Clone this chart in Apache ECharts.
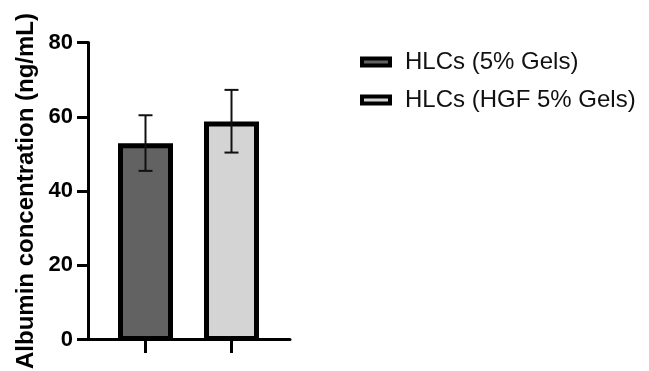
<!DOCTYPE html>
<html>
<head>
<meta charset="utf-8">
<script src="https://cdn.jsdelivr.net/npm/echarts@6/dist/echarts.min.js"></script>
<style>html,body{margin:0;padding:0;background:#fff}#c{width:649px;height:371px}</style>
</head>
<body>
<div id="c"></div>
<script>
var categories = ['HLCs (5% Gels)', 'HLCs (HGF 5% Gels)'];
var means = [53.0, 58.8];
var errLow = [45.6, 50.5];
var errHigh = [60.5, 67.3];
var barColors = ['#626262', '#d4d4d4'];

var FONT = '"Liberation Sans", Arial, sans-serif';
var chart = echarts.init(document.getElementById('c'));

var barSeries = categories.map(function (name, i) {
  return {
    name: name,
    type: 'bar',
    xAxisIndex: 1,
    yAxisIndex: 1,
    stack: 'all',
    barWidth: 55,
    data: categories.map(function (c, j) { return j === i ? means[i] : '-'; }),
    itemStyle: { color: barColors[i], borderColor: '#000', borderWidth: 5 },
    z: 2
  };
});

var errData = categories.map(function (c, i) { return [i, errLow[i], errHigh[i]]; });

var option = {
  animation: false,
  backgroundColor: '#fff',
  grid: [
    { left: 88, top: 42.5, width: 202, height: 298.5 },
    { left: 102.5, top: 42.5, width: 172, height: 298.5 }
  ],
  legend: {
    orient: 'vertical',
    left: 355,
    top: 45,
    icon: 'rect',
    itemWidth: 28,
    itemHeight: 7,
    itemGap: 14,
    itemStyle: { borderWidth: 4, borderColor: '#000' },
    textStyle: { fontFamily: FONT, fontSize: 24, color: '#111', lineHeight: 24, padding: [0, 0, 0, 10] },
    data: categories
  },
  xAxis: [
    {
      gridIndex: 0, type: 'value', min: 0, max: 1,
      axisLine: { show: true, onZero: false, lineStyle: { color: '#000', width: 3 } },
      axisTick: { show: false }, axisLabel: { show: false }, splitLine: { show: false }
    },
    {
      gridIndex: 1, type: 'category', data: categories,
      axisLine: { show: true, onZero: false, lineStyle: { color: 'rgba(0,0,0,0)', width: 3 } },
      axisTick: { show: true, interval: 0, alignWithLabel: true, length: 12, lineStyle: { color: '#000', width: 3 } },
      axisLabel: { show: false }, splitLine: { show: false }
    }
  ],
  yAxis: [
    {
      gridIndex: 0, type: 'value', min: 0, max: 80, interval: 20,
      name: 'Albumin concentration (ng/mL)',
      nameLocation: 'middle',
      nameGap: 50,
      nameTextStyle: { fontFamily: FONT, fontSize: 24, fontWeight: 'bold', color: '#000' },
      axisLine: { show: true, lineStyle: { color: '#000', width: 3 } },
      axisTick: { show: true, length: 11, lineStyle: { color: '#000', width: 3 } },
      axisLabel: { fontFamily: FONT, fontSize: 22, fontWeight: 'bold', color: '#000', margin: 15 },
      splitLine: { show: false }
    },
    {
      gridIndex: 1, type: 'value', min: 0, max: 80, show: false
    }
  ],
  series: barSeries.concat([{
    type: 'custom',
    xAxisIndex: 1,
    yAxisIndex: 1,
    z: 5,
    data: errData,
    renderItem: function (params, api) {
      var lo = api.coord([api.value(0), api.value(1)]);
      var hi = api.coord([api.value(0), api.value(2)]);
      var hw = 7;
      var st = { stroke: '#111', lineWidth: 2 };
      return {
        type: 'group',
        children: [
          { type: 'line', shape: { x1: hi[0], y1: hi[1], x2: lo[0], y2: lo[1] }, style: st },
          { type: 'line', shape: { x1: hi[0] - hw, y1: hi[1], x2: hi[0] + hw, y2: hi[1] }, style: st },
          { type: 'line', shape: { x1: lo[0] - hw, y1: lo[1], x2: lo[0] + hw, y2: lo[1] }, style: st }
        ]
      };
    }
  }])
};
chart.setOption(option);
</script>
</body>
</html>
